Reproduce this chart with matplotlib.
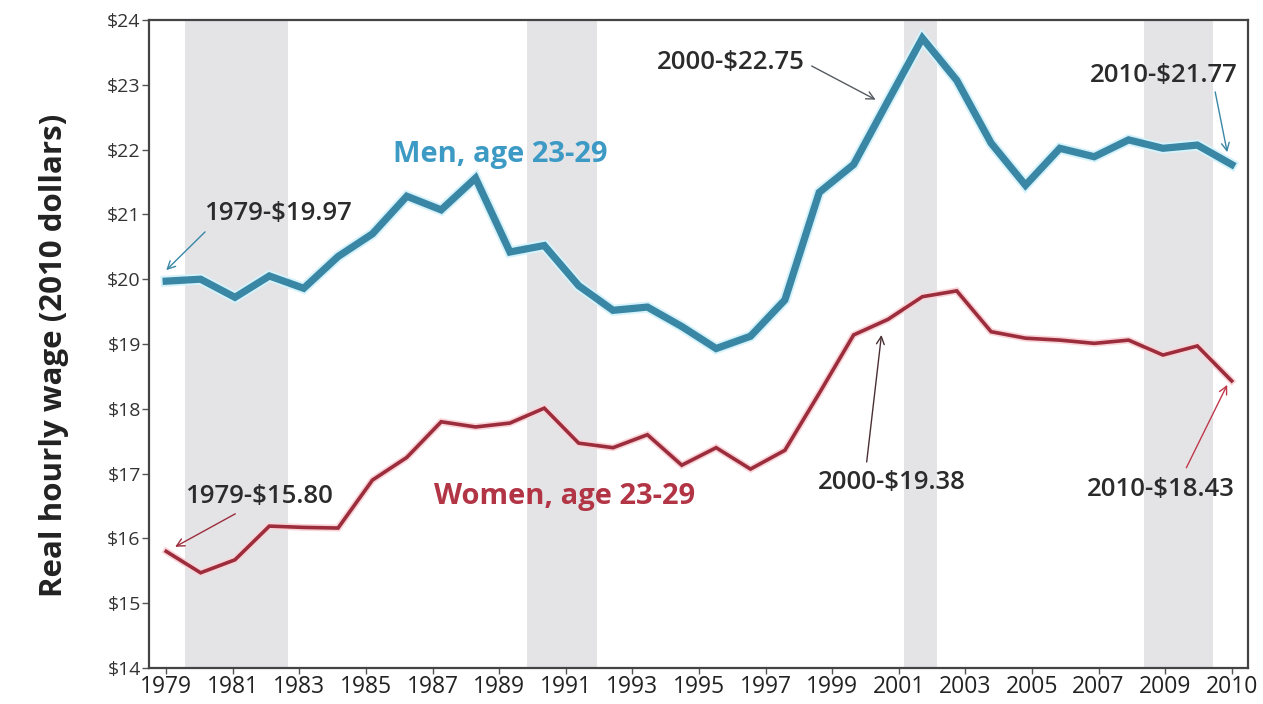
import numpy as np
import matplotlib
matplotlib.use("Agg")
import matplotlib.pyplot as plt
import matplotlib.patheffects as pe

plt.rcParams['font.family'] = ['Open Sans', 'DejaVu Sans']

years = list(range(1979, 2011))
men = [19.97, 20.00, 19.72, 20.05, 19.86, 20.35, 20.70, 21.28, 21.07, 21.56,
       20.42, 20.52, 19.90, 19.52, 19.57, 19.27, 18.93, 19.12, 19.68, 21.34,
       21.77, 22.75, 23.72, 23.07, 22.10, 21.45, 22.02, 21.89, 22.15, 22.02,
       22.07, 21.77]
women = [15.80, 15.47, 15.67, 16.19, 16.17, 16.16, 16.90, 17.25, 17.80, 17.72,
         17.78, 18.01, 17.47, 17.40, 17.60, 17.13, 17.40, 17.07, 17.36, 18.24,
         19.14, 19.38, 19.73, 19.82, 19.19, 19.09, 19.06, 19.01, 19.06, 18.83,
         18.97, 18.43]
recessions = [(1979.55, 1982.55), (1989.5, 1991.53), (2000.48, 2001.44), (2007.46, 2009.47)]
y_ticks = list(range(14, 25))
x_tick_labels = [str(y) for y in range(1979, 2010, 2)] + ["2010"]

fig = plt.figure(figsize=(12.63, 7.04), dpi=100)
ax = fig.add_axes([0.118, 0.0511, 0.870, 0.9205])

for a, b in recessions:
    ax.axvspan(a, b, color="#e4e4e7", lw=0, zorder=0)

ax.plot(years, men, color="#3a87a5", lw=5.2, solid_joinstyle="miter", zorder=3,
        path_effects=[pe.Stroke(linewidth=8, foreground="#d6f3fb"), pe.Normal()])
ax.plot(years, women, color="#9c2d3c", lw=2.6, solid_joinstyle="miter", zorder=3,
        path_effects=[pe.Stroke(linewidth=5, foreground="#f9d4d8"), pe.Normal()])

ax.text(1988.71, 21.92, "Men, age 23-29", color="#3d9ac4", fontsize=21,
        fontweight="bold", ha="center", va="center")
ax.text(1990.6, 16.64, "Women, age 23-29", color="#b23546", fontsize=21,
        fontweight="bold", ha="center", va="center")

# value callouts: (text, text pos, arrow start, arrow tip, arrow colour)
notes = [
    ("1979-$19.97", (1982.26, 21.01), (1980.13, 20.73), (1979.0, 20.14), "#3a87a5"),
    ("2000-$22.75", (1995.42, 23.34), (1997.78, 23.29), (1999.64, 22.77), "#555b60"),
    ("2010-$21.77", (2008.01, 23.14), (2009.52, 22.89), (2009.87, 21.96), "#3a87a5"),
    ("1979-$15.80", (1981.70, 16.64), (1981.01, 16.38), (1979.26, 15.87), "#9c2d3c"),
    ("2000-$19.38", (2000.10, 16.87), (1999.38, 17.18), (1999.81, 19.14), "#4a3035"),
    ("2010-$18.43", (2007.95, 16.75), (2008.68, 17.09), (2009.87, 18.37), "#c0394a"),
]
for label, tpos, start, tip, col in notes:
    ax.text(tpos[0], tpos[1], label, fontsize=18.5, fontweight="semibold",
            color="#2b2b2b", ha="center", va="center", zorder=5)
    ax.annotate("", xy=tip, xytext=start,
                arrowprops=dict(arrowstyle="->", color=col, lw=1.0,
                                mutation_scale=14, shrinkA=0, shrinkB=0),
                zorder=5)

ax.set_xlim(1978.5, 2010.47)
ax.set_ylim(14, 24)
ax.set_yticks(y_ticks)
ax.set_yticklabels([f"${v}" for v in y_ticks], fontsize=14, color="#333333")
ax.set_xticks(np.linspace(1979, 2010, len(x_tick_labels)))
ax.set_xticklabels(x_tick_labels, fontsize=16.5, color="#222222")
ax.tick_params(axis="y", length=5, width=1, color="#555555", pad=1)
ax.tick_params(axis="x", length=4, width=1, color="#555555", pad=1)
for s in ax.spines.values():
    s.set_color("#444444")
    s.set_linewidth(1.6)

fig.text(0.043, 0.495, "Real hourly wage (2010 dollars)", rotation=90,
         fontsize=22.5, fontweight="bold", color="#222222", ha="center", va="center")

fig.savefig("out.png", dpi=100)
